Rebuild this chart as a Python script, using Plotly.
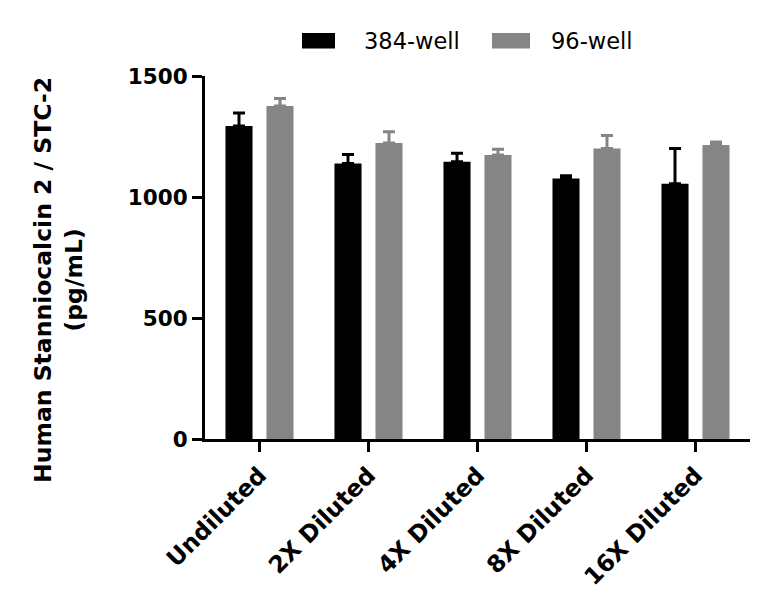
import plotly.graph_objects as go

categories = ["Undiluted", "2X Diluted", "4X Diluted", "8X Diluted", "16X Diluted"]
well384 = [1293, 1138, 1146, 1076, 1055]
well384_err = [54, 38, 35, 12, 145]
well96 = [1376, 1223, 1174, 1200, 1215]
well96_err = [31, 47, 23, 54, 12]
y_ticks = [0, 500, 1000, 1500]
series_names = ["384-well", "96-well"]

FONT = "DejaVu Sans"
BLACK = "#000000"
GRAY = "#858585"

# plot area in pixels
L, R, T, B = 205, 18, 76, 170
W, H = 768, 609
PW, PH = W - L - R, H - T - B


def px_x(px):
    return (px - L) / PW


def px_y(py):
    return (H - B - py) / PH


fig = go.Figure()
fig.add_trace(go.Bar(
    x=categories, y=well384, name=series_names[0],
    marker=dict(color=BLACK, line=dict(width=0)),
    error_y=dict(type="data", array=well384_err, arrayminus=[0] * 5, symmetric=False,
                 color=BLACK, thickness=3, width=6),
))
fig.add_trace(go.Bar(
    x=categories, y=well96, name=series_names[1],
    marker=dict(color=GRAY, line=dict(width=0)),
    error_y=dict(type="data", array=well96_err, arrayminus=[0] * 5, symmetric=False,
                 color=GRAY, thickness=3, width=6),
))

fig.update_layout(
    width=W, height=H,
    margin=dict(l=L, r=R, t=T, b=B),
    paper_bgcolor="white", plot_bgcolor="white",
    barmode="group", bargap=0.248, bargroupgap=0.34,
    font=dict(family=FONT, color="black"),
    showlegend=False,
    xaxis=dict(
        range=[-0.5, 4.5], showline=True, linecolor="black", linewidth=3,
        ticks="outside", ticklen=10, tickwidth=3, tickcolor="black",
        tickangle=-45, tickfont=dict(size=23.5, family=FONT, weight="bold"),
        showgrid=False, zeroline=False,
    ),
    yaxis=dict(
        range=[0, 1500], tickvals=y_ticks, showline=True, linecolor="black", linewidth=3,
        ticks="outside", ticklen=10, tickwidth=3, tickcolor="black",
        tickfont=dict(size=21.5, family=FONT, weight="bold"),
        showgrid=False, zeroline=False,
    ),
)

# legend (drawn manually to match rectangle swatches)
legend_items = [
    (series_names[0], BLACK, 302, 335, 362),
    (series_names[1], GRAY, 492, 530, 549),
]
for name, col, x0, x1, tx in legend_items:
    fig.add_shape(type="rect", xref="paper", yref="paper",
                  x0=px_x(x0), x1=px_x(x1), y0=px_y(48.5), y1=px_y(33),
                  fillcolor=col, line=dict(width=0))
    fig.add_annotation(text=name, xref="paper", yref="paper",
                       x=px_x(tx), y=px_y(41), xanchor="left", yanchor="middle",
                       showarrow=False, font=dict(size=22.5, family=FONT, color="black"))

fig.add_annotation(
    text="<b>Human Stanniocalcin 2 / STC-2<br>(pg/mL)</b>",
    xref="paper", yref="paper",
    x=px_x(58), y=px_y(280), xanchor="center", yanchor="middle",
    textangle=-90, showarrow=False,
    font=dict(size=23.5, family=FONT, color="black"),
)

fig.write_html("out.html")
